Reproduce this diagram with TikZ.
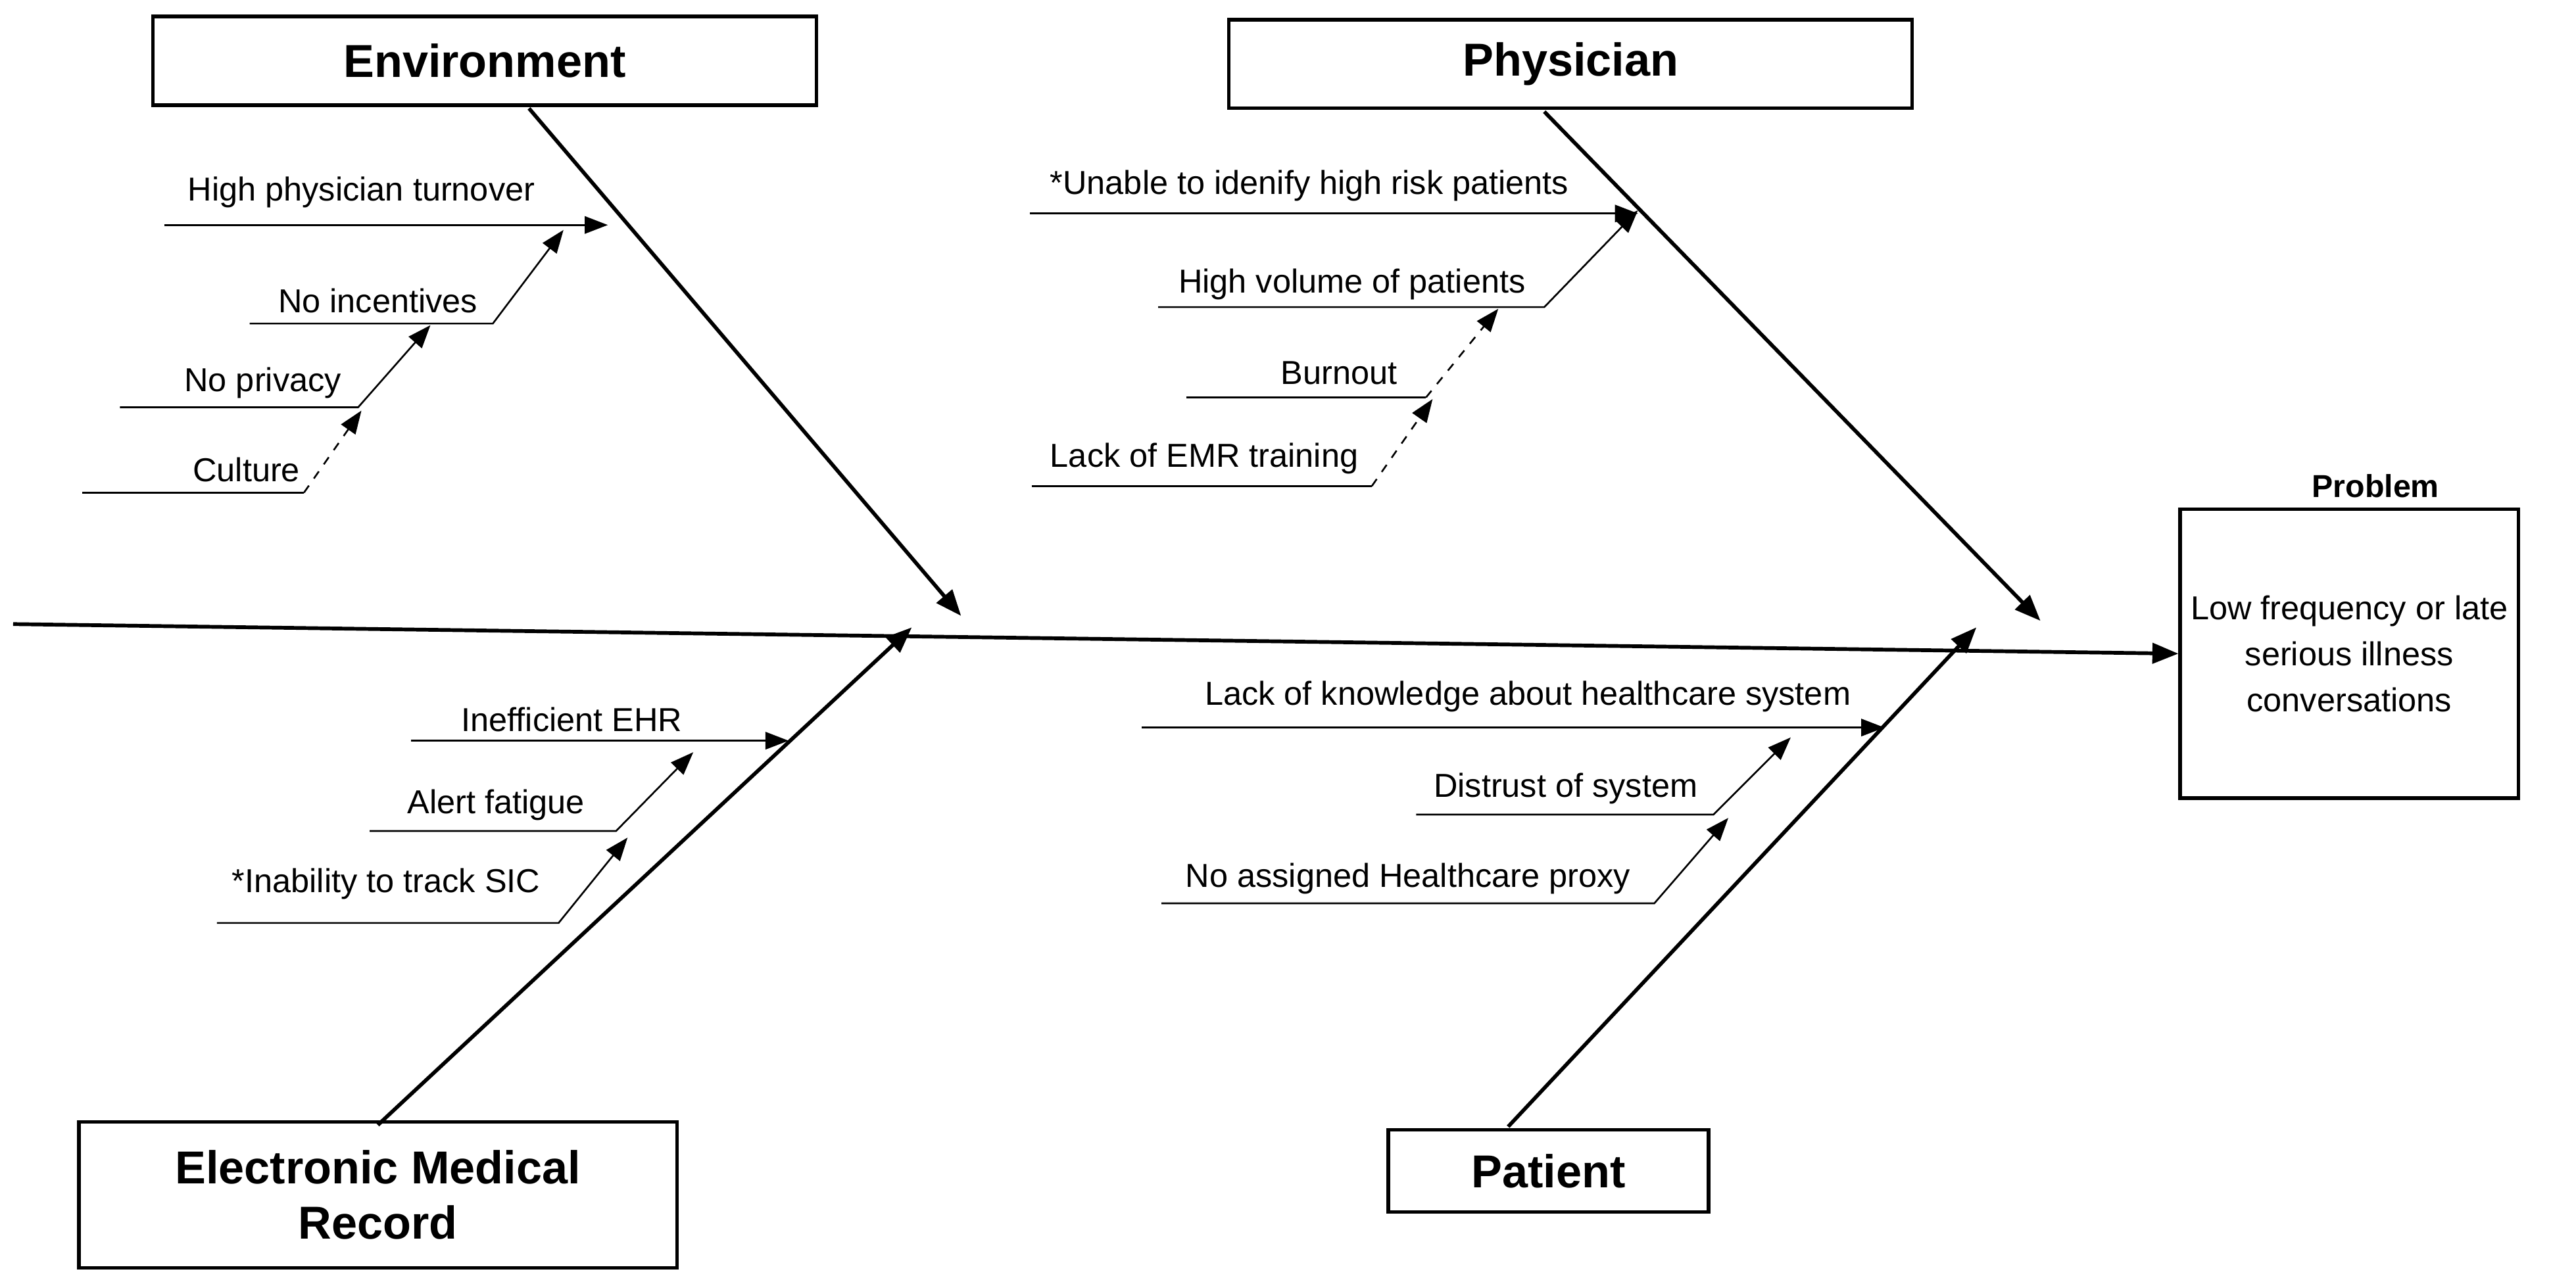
\documentclass[tikz,border=0pt]{standalone}
\usepackage{fontspec}
\setmainfont{Liberation Sans}
\usetikzlibrary{arrows.meta}
\begin{document}
\begin{tikzpicture}[x=0.02cm,y=-0.02cm,
  box/.style={draw,line width=1.2pt,font=\fontsize{16}{19}\selectfont\bfseries,align=center,inner sep=0pt},
  lab/.style={font=\fontsize{11.5}{14}\selectfont,inner sep=0pt},
  bone/.style={line width=1.3pt,-{Triangle[length=9pt,width=7pt]}},
  sub/.style={line width=0.6pt},
  suba/.style={line width=0.6pt,-{Triangle[length=8pt,width=6pt]}}]
\useasboundingbox (0,0) rectangle (1568,780.6);
% boxes
\node[box,minimum width=404*0.02cm,minimum height=54*0.02cm] (env) at (295,37) {Environment};
\node[box,minimum width=416*0.02cm,minimum height=54*0.02cm] (phy) at (956,39) {Physician};
\node[box,minimum width=364*0.02cm,minimum height=89*0.02cm] (emr) at (230,727.5) {Electronic Medical\\Record};
\node[box,minimum width=195*0.02cm,minimum height=50*0.02cm] (pat) at (942.5,713) {Patient};
\node[draw,line width=1.2pt,minimum width=206*0.02cm,minimum height=176*0.02cm,align=center,
  font=\fontsize{11.5}{16}\selectfont,inner sep=0pt] (prob) at (1430,398) {Low frequency or late\\serious illness\\conversations};
\node[font=\fontsize{11}{13}\selectfont\bfseries] (probt) at (1446,296) {Problem};
% spine
\coordinate (s0) at (8,380);
\draw[bone] (s0) -- (prob.west);
% main bones
\coordinate (e1) at (322,66); \coordinate (e2) at (585,375);
\draw[bone] (e1) -- (e2);
\coordinate (p1) at (940,68); \coordinate (p2) at (1242,378);
\draw[bone] (p1) -- (p2);
\coordinate (m1) at (230,685); \coordinate (m2) at (555,382);
\draw[bone] (m1) -- (m2);
\coordinate (t1) at (918,686); \coordinate (t2) at (1203,382);
\draw[bone] (t1) -- (t2);
% Environment subs
\coordinate (a1) at (100,137); \coordinate (a2) at (370,137);
\draw[suba] (a1) -- (a2);
\node[lab] (la) at (220,117) {High physician turnover};
\coordinate (b1) at (152,197); \coordinate (b2) at (300,197); \coordinate (b3) at (343,140);
\draw[suba] (b1) -- (b2) -- (b3);
\node[lab] (lb) at (230,183) {No incentives};
\coordinate (c1) at (73,248); \coordinate (c2) at (218,248); \coordinate (c3) at (262,198);
\draw[suba] (c1) -- (c2) -- (c3);
\node[lab] (lc) at (160,233) {No privacy};
\coordinate (d1) at (50,300); \coordinate (d2) at (185,300); \coordinate (d3) at (220,250);
\draw[sub] (d1) -- (d2); \draw[suba,dashed] (d2) -- (d3);
\node[lab] (ld) at (150,286) {Culture};
% Physician subs
\coordinate (f1) at (627,130); \coordinate (f2) at (997,130);
\draw[suba] (f1) -- (f2);
\node[lab] (lf) at (797,113) {*Unable to idenify high risk patients};
\coordinate (g1) at (705,187); \coordinate (g2) at (940,187); \coordinate (g3) at (997,128);
\draw[suba] (g1) -- (g2) -- (g3);
\node[lab] (lg) at (823,173) {High volume of patients};
\coordinate (h1) at (722,242); \coordinate (h2) at (868,242); \coordinate (h3) at (912,188);
\draw[sub] (h1) -- (h2); \draw[suba,dashed] (h2) -- (h3);
\node[lab] (lh) at (815,227) {Burnout};
\coordinate (i1) at (628,296); \coordinate (i2) at (835,296); \coordinate (i3) at (872,243);
\draw[sub] (i1) -- (i2); \draw[suba,dashed] (i2) -- (i3);
\node[lab] (li) at (733,279) {Lack of EMR training};
% EMR subs
\coordinate (j1) at (250,451); \coordinate (j2) at (480,451);
\draw[suba] (j1) -- (j2);
\node[lab] (lj) at (348,438) {Inefficient EHR};
\coordinate (k1) at (225,506); \coordinate (k2) at (375,506); \coordinate (k3) at (422,458);
\draw[suba] (k1) -- (k2) -- (k3);
\node[lab] (lk) at (302,490) {Alert fatigue};
\coordinate (l1) at (132,562); \coordinate (l2) at (340,562); \coordinate (l3) at (382,510);
\draw[suba] (l1) -- (l2) -- (l3);
\node[lab] (ll) at (235,538) {*Inability to track SIC};
% Patient subs
\coordinate (n1) at (695,443); \coordinate (n2) at (1147,443);
\draw[suba] (n1) -- (n2);
\node[lab] (ln) at (930,424) {Lack of knowledge about healthcare system};
\coordinate (o1) at (862,496); \coordinate (o2) at (1043,496); \coordinate (o3) at (1090,449);
\draw[suba] (o1) -- (o2) -- (o3);
\node[lab] (lo) at (953,480) {Distrust of system};
\coordinate (q1) at (707,550); \coordinate (q2) at (1007,550); \coordinate (q3) at (1052,498);
\draw[suba] (q1) -- (q2) -- (q3);
\node[lab] (lq) at (857,535) {No assigned Healthcare proxy};
\end{tikzpicture}
\end{document}
